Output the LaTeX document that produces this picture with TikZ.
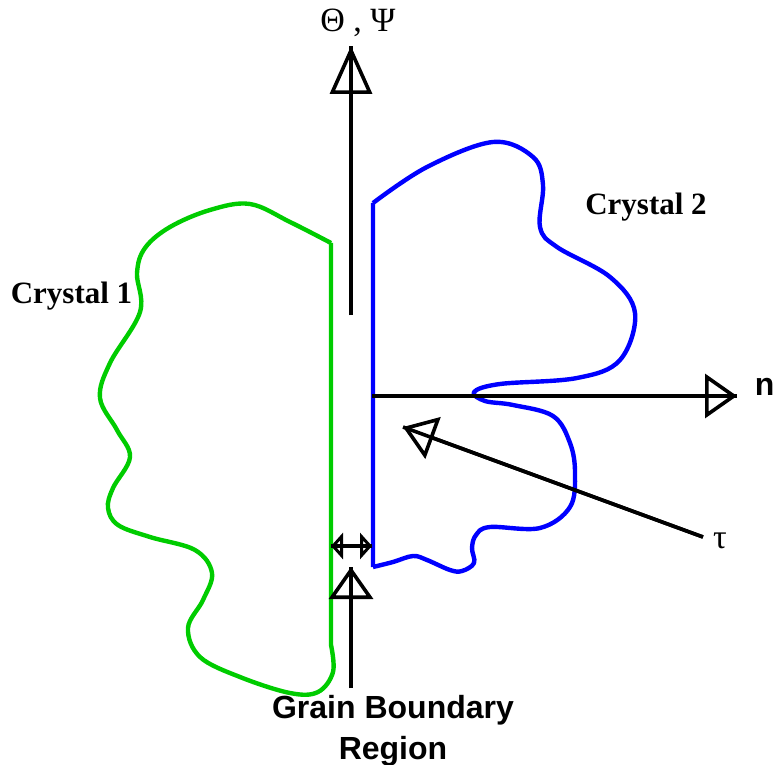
\documentclass[tikz,border=0pt]{standalone}
\usepackage{fontspec}
\setmainfont{Liberation Serif}
\setsansfont{Liberation Sans}
\usetikzlibrary{arrows.meta}
\definecolor{crysgreen}{RGB}{0,204,0}
\definecolor{crysblue}{RGB}{0,0,255}

\begin{document}
\begin{tikzpicture}[x=0.5pt,y=-0.5pt,line width=1.8pt,
 longtip/.style={-{Triangle[open,length=24pt,width=21pt]}},
 shorttip/.style={-{Triangle[open,length=16pt,width=22pt]}},
 smalltips/.style={{Triangle[open,length=6pt,width=13pt]}-{Triangle[open,length=6pt,width=13pt]}},
 crys/.style={font=\bfseries\fontsize{15.5}{18}\selectfont,inner sep=0pt,anchor=base},
 edge/.style={line width=2.2pt,line join=round}]
\useasboundingbox (0,0) rectangle (774,764);
% crystal outlines
\draw[edge,crysgreen] (331,243) -- (331,645) plot[smooth,tension=0.6] coordinates {(331,645) (333,672) (318,692) (290,693) (240,677) (200,657) (188,628) (203,600) (212,573) (195,550) (150,537) (118,525) (108,508) (113,488) (130,457) (117,430) (100,398) (110,363) (140,312) (137,273) (145,248) (170,227) (210,210) (250,204) (290,222) (331,243)};
\draw[edge,crysblue] (373,567) -- (373,203) plot[smooth,tension=0.6] coordinates {(373,203) (427,167) (493,142) (533,157) (543,185) (540,227) (557,247) (610,277) (635,313) (620,360) (577,378) (500,384) (474,392) (485,401) (513,405) (553,416) (570,443) (575,473) (570,507) (540,528) (490,527) (476,535) (472,548) (474,563) (462,571) (450,570) (427,560) (413,556) (393,562) (373,567)};
% axes
\coordinate (thbot) at (351,315);
\coordinate (thtop) at (351,46);
\coordinate (ntail) at (372,396);
\coordinate (nhead) at (737,396);
\coordinate (tautail) at (703,537);
\coordinate (tauhead) at (403,427);
\coordinate (gbtail) at (351,688);
\coordinate (gbhead) at (351,567);
\coordinate (wl) at (331,546);
\coordinate (wr) at (372,546);
\draw[longtip] (thbot) -- (thtop); \draw (thbot) -- (thtop);
\draw[shorttip] (ntail) -- (nhead); \draw (ntail) -- (nhead);
\draw[shorttip] (tautail) -- (tauhead); \draw (tautail) -- (tauhead);
\draw[shorttip] (gbtail) -- (gbhead); \draw (gbtail) -- (gbhead);
\draw[smalltips] (wl) -- (wr); \draw (wl) -- (wr);
% labels
\node[anchor=base,inner sep=0pt,font=\fontsize{17}{20}\selectfont] (thlabel) at (358,32) {Θ , Ψ};
\node[anchor=base west,inner sep=0pt,font=\sffamily\bfseries\fontsize{16}{19}\selectfont] (nlabel) at (753,395) {n};
\node[anchor=base,inner sep=0pt,font=\fontsize{17}{20}\selectfont] (taulabel) at (720,548) {τ};
\node[crys] (cryst1) at (71.5,303) {Crystal 1};
\node[crys] (cryst2) at (646,215) {Crystal 2};
\node[anchor=north,align=center,inner sep=0pt,font=\sffamily\bfseries\fontsize{16}{20.5}\selectfont] (gblabel) at (393,694) {Grain Boundary\\Region};
\end{tikzpicture}
\end{document}
